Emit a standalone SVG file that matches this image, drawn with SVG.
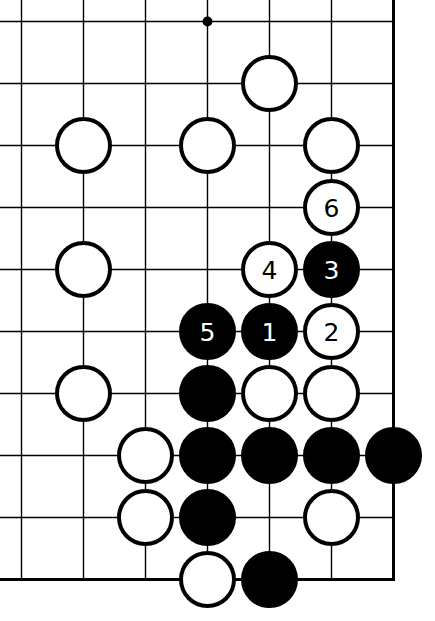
<svg xmlns="http://www.w3.org/2000/svg" width="435" height="621" viewBox="0 0 435 621">
<style>
.g{stroke:#000;stroke-width:1.4;fill:none}
.e{stroke:#000;stroke-width:3;fill:none}
.w{fill:#fff;stroke:#000;stroke-width:4}
.b{fill:#000;stroke:#000;stroke-width:4}
.tw{fill:#000;font-family:"DejaVu Sans",Verdana,sans-serif;font-size:25px;text-anchor:middle}
.tb{fill:#fff;font-family:"DejaVu Sans",Verdana,sans-serif;font-size:25px;text-anchor:middle}
</style>
<rect width="435" height="621" fill="#fff"/>
<g id="grid">
<path class="g" d="M21.5 0V579.5M83.5 0V579.5M145.5 0V579.5M207.5 0V579.5M269.5 0V579.5M331.5 0V579.5M0 21.5H393.5M0 83.5H393.5M0 145.5H393.5M0 207.5H393.5M0 269.5H393.5M0 331.5H393.5M0 393.5H393.5M0 455.5H393.5M0 517.5H393.5"/>
<path class="e" d="M393.5 0V579.5H0"/>
<circle cx="207.5" cy="21.5" r="5" fill="#000"/>
</g>
<g id="s1"><circle class="w" cx="269.5" cy="83.5" r="26.5"/></g>
<g id="s2"><circle class="w" cx="83.5" cy="145.5" r="26.5"/></g>
<g id="s3"><circle class="w" cx="207.5" cy="145.5" r="26.5"/></g>
<g id="s4"><circle class="w" cx="331.5" cy="145.5" r="26.5"/></g>
<g id="w6"><circle class="w" cx="331.5" cy="207.5" r="26.5"/><text class="tw" x="331.5" y="216.5">6</text></g>
<g id="s5"><circle class="w" cx="83.5" cy="269.5" r="26.5"/></g>
<g id="w4"><circle class="w" cx="269.5" cy="269.5" r="26.5"/><text class="tw" x="269.5" y="278.5">4</text></g>
<g id="b3"><circle class="b" cx="331.5" cy="269.5" r="26.5"/><text class="tb" x="331.5" y="278.5">3</text></g>
<g id="b5"><circle class="b" cx="207.5" cy="331.5" r="26.5"/><text class="tb" x="207.5" y="340.5">5</text></g>
<g id="b1"><circle class="b" cx="269.5" cy="331.5" r="26.5"/><text class="tb" x="269.5" y="340.5">1</text></g>
<g id="w2"><circle class="w" cx="331.5" cy="331.5" r="26.5"/><text class="tw" x="331.5" y="340.5">2</text></g>
<g id="s6"><circle class="w" cx="83.5" cy="393.5" r="26.5"/></g>
<g id="s7"><circle class="b" cx="207.5" cy="393.5" r="26.5"/></g>
<g id="s8"><circle class="w" cx="269.5" cy="393.5" r="26.5"/></g>
<g id="s9"><circle class="w" cx="331.5" cy="393.5" r="26.5"/></g>
<g id="s10"><circle class="w" cx="145.5" cy="455.5" r="26.5"/></g>
<g id="s11"><circle class="b" cx="207.5" cy="455.5" r="26.5"/></g>
<g id="s12"><circle class="b" cx="269.5" cy="455.5" r="26.5"/></g>
<g id="s13"><circle class="b" cx="331.5" cy="455.5" r="26.5"/></g>
<g id="s14"><circle class="b" cx="393.5" cy="455.5" r="26.5"/></g>
<g id="s15"><circle class="w" cx="145.5" cy="517.5" r="26.5"/></g>
<g id="s16"><circle class="b" cx="207.5" cy="517.5" r="26.5"/></g>
<g id="s17"><circle class="w" cx="331.5" cy="517.5" r="26.5"/></g>
<g id="s18"><circle class="w" cx="207.5" cy="579.5" r="26.5"/></g>
<g id="s19"><circle class="b" cx="269.5" cy="579.5" r="26.5"/></g>
</svg>
